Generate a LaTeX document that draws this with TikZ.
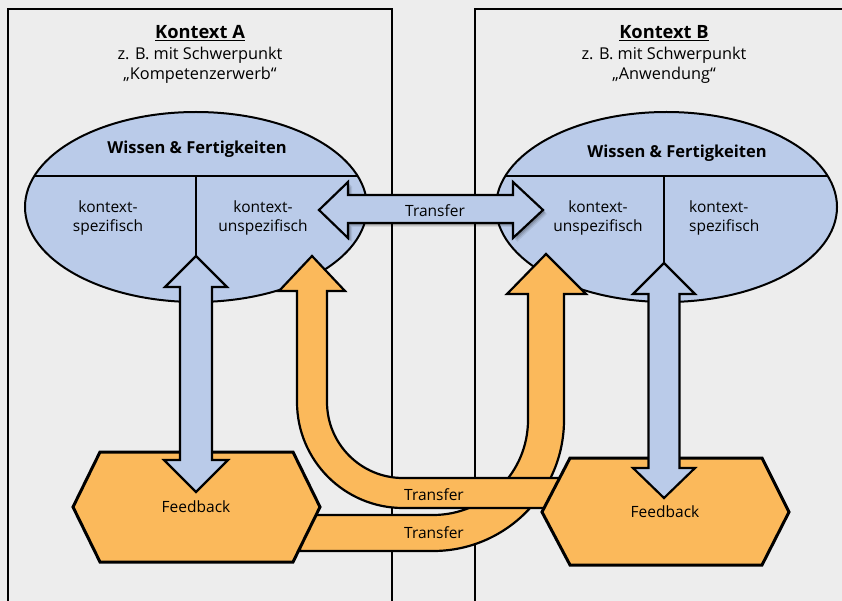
\documentclass[tikz,border=0pt]{standalone}
\usepackage{fontspec}
\setmainfont{Open Sans}
\usetikzlibrary{shapes.geometric}
\definecolor{bgc}{HTML}{EDEDED}
\definecolor{bluefill}{HTML}{BACBE9}
\definecolor{orangefill}{HTML}{FBB95B}
\begin{document}
\begin{tikzpicture}[x=1pt,y=-1pt,
  every node/.style={font=\fontsize{15.5}{19}\selectfont, inner sep=0pt},
  panel/.style={draw=black, line width=2.6pt, fill=bgc},
  knowledge/.style={draw=black, line width=2pt, fill=bluefill, ellipse,
    minimum width=342pt, minimum height=190pt},
  divider/.style={draw=black, line width=2pt},
  bluearrow/.style={draw=black, line width=2.2pt, fill=bluefill, line join=miter},
  orangearrow/.style={draw=black, line width=2.2pt, fill=orangefill, line join=miter},
  hexbox/.style={draw=black, line width=3pt, fill=orangefill, line join=miter},
  lbl/.style={anchor=base},
  sublbl/.style={anchor=base, font=\fontsize{16.3}{19}\selectfont},
  headline/.style={anchor=base, font=\fontsize{18.3}{20}\selectfont\bfseries},
  boldlbl/.style={anchor=base, font=\fontsize{16.5}{18}\selectfont\bfseries},
]
% canvas
\useasboundingbox (0,0) rectangle (842,601);
\fill[bgc] (0,0) rectangle (842,601);

% the two context panels
\draw[panel] (8,9) rectangle (392,615);
\draw[panel] (475,9) rectangle (855,615);

% panel headings
\node[headline] (hA) at (200,39) {\underline{Kontext A}};
\node[sublbl] (sA1) at (200,60) {z. B. mit Schwerpunkt};
\node[sublbl] (sA2) at (200,80) {„Kompetenzerwerb“};
\node[headline] (hB) at (664,39) {\underline{Kontext B}};
\node[sublbl] (sB1) at (664,60) {z. B. mit Schwerpunkt};
\node[sublbl] (sB2) at (664,80) {„Anwendung“};

% knowledge ellipses
\node[knowledge] (eA) at (196,207) {};
\draw[divider] (34.4,176) -- (357.6,176);
\draw[divider] (196,176) -- (196,258);
\node[knowledge, minimum width=341pt] (eB) at (666.5,207) {};
\draw[divider] (505.3,176) -- (827.7,176);
\draw[divider] (664,176) -- (664,265);

\node[boldlbl] (wA) at (197,154) {Wissen \& Fertigkeiten};
\node[boldlbl] (wB) at (677,158) {Wissen \& Fertigkeiten};
% two-line labels: the base anchor sits on the second line
\node[lbl, align=center] (ksA) at (108,232) {kontext-\\spezifisch};
\node[lbl, align=center] (kuA) at (263,232) {kontext-\\unspezifisch};
\node[lbl, align=center] (kuB) at (598,232) {kontext-\\unspezifisch};
\node[lbl, align=left, anchor=base west] (ksB) at (689,232) {kontext-\\spezifisch};

% transfer from Feedback A up into context B
\draw[orangearrow] (300,515) -- (433,515)
  .. controls (485.5,515) and (528,472.5) .. (528,420)
  -- (528,294) -- (507,294) -- (546,254) -- (586,294) -- (564,294)
  -- (564,420)
  .. controls (564,492.4) and (505.4,551) .. (433,551)
  -- (300,551) -- cycle;

% transfer from Feedback B up into context A
\draw[orangearrow] (560,478) -- (403,478)
  .. controls (361,478) and (327,444) .. (327,402)
  -- (327,291) -- (345,291) -- (312,256) -- (279,291) -- (297,291)
  -- (297,402)
  .. controls (297,460.5) and (344.5,508) .. (403,508)
  -- (560,508) -- cycle;

% feedback hexagons
\draw[hexbox] (73,507) -- (100,452) -- (293,452) -- (320,507) -- (293,562) -- (100,562) -- cycle;
\draw[hexbox] (542,512) -- (570,458) -- (762,458) -- (789,512) -- (762,565) -- (570,565) -- cycle;
\node[lbl] (fbA) at (196,512) {Feedback};
\node[lbl] (fbB) at (665,517) {Feedback};

% feedback loops between knowledge and feedback
\draw[bluearrow] (196,256) -- (227,287) -- (212,287) -- (212,460) -- (228,460) -- (196,492)
  -- (164,460) -- (180,460) -- (180,287) -- (165,287) -- cycle;
\draw[bluearrow] (664,263) -- (695,294) -- (679.5,294) -- (679.5,468) -- (695,468) -- (664,498)
  -- (633,468) -- (648.5,468) -- (648.5,294) -- (633,294) -- cycle;

% horizontal transfer between the unspecific parts
\foreach \d/\o in {4/0.08, 3/0.10, 2/0.14}{
  \fill[black, opacity=\o, shift={(\d,\d)}]
    (319,210) -- (348,182) -- (348,195) -- (513,195) -- (513,182) -- (543,210)
    -- (513,238) -- (513,223) -- (348,223) -- (348,238) -- cycle;
}
\draw[bluearrow] (319,210) -- (348,182) -- (348,195) -- (513,195) -- (513,182) -- (543,210)
  -- (513,238) -- (513,223) -- (348,223) -- (348,238) -- cycle;

% transfer labels
\node[lbl] (tH) at (435,217) {Transfer};
\node[lbl] (tU) at (434,500) {Transfer};
\node[lbl] (tL) at (434,538) {Transfer};
\end{tikzpicture}
\end{document}
